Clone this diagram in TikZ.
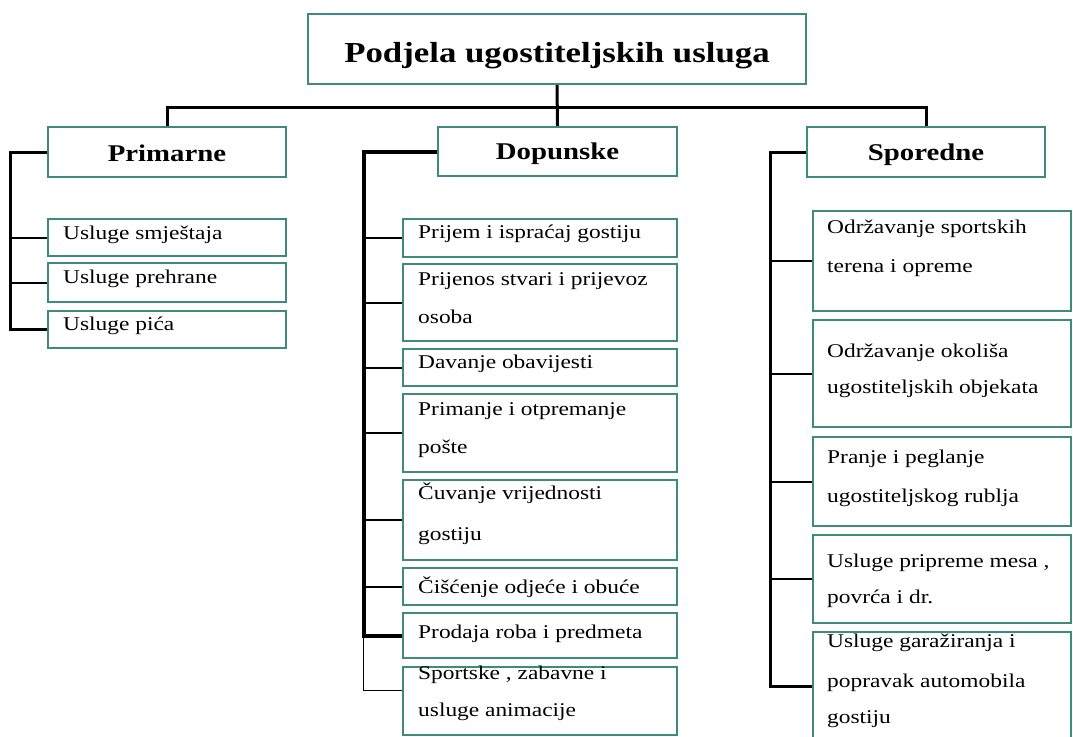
\documentclass[tikz,border=0pt]{standalone}
\usepackage{fontspec}
\setmainfont{Liberation Serif}[FakeStretch=1.2]
\definecolor{boxc}{HTML}{3F8A7E}
\newcommand\mybox[5]{\node[box, minimum width={(#4-#2)*1pt}, minimum height={(#5-#3)*1pt}] (#1) at ({(#2+#4)/2},{(#3+#5)/2}) {};}
\begin{document}
\begin{tikzpicture}[x=1pt,y=-1pt,
  box/.style={draw=boxc, line width=2.2pt, fill=white, inner sep=0pt},
  itemtxt/.style={anchor=base west, inner sep=0pt, font=\fontsize{19.5}{20}\selectfont},
  headtxt/.style={anchor=base, inner sep=0pt, font=\fontsize{24}{26}\selectfont\bfseries},
  conn/.style={draw=black, line width=3pt},
  thickconn/.style={draw=black, line width=4pt},
  sub/.style={draw=black, line width=2pt},
  thinconn/.style={draw=black, line width=1pt}]
\useasboundingbox[fill=white] (0,0) rectangle (1073,736);

% title
\mybox{title}{308}{14}{806}{84}
\node[anchor=base, inner sep=0pt, font=\fontsize{29}{31}\selectfont\bfseries] (ttitle) at (557,62) {Podjela ugostiteljskih usluga};

% headers
\mybox{prim}{48}{127}{286}{177}
\node[headtxt] (tprim) at (167,161) {Primarne};
\mybox{dop}{438}{127}{677}{176}
\node[headtxt] (tdop) at (557.5,159) {Dopunske};
\mybox{spor}{807}{127}{1045}{177}
\node[headtxt] (tspor) at (926,160) {Sporedne};

% primarne items
\mybox{p1}{48}{219}{286}{256}
\node[itemtxt] (tp1) at (63,239) {Usluge smještaja};
\mybox{p2}{48}{263}{286}{302}
\node[itemtxt] (tp2) at (63,283) {Usluge prehrane};
\mybox{p3}{48}{311}{286}{348}
\node[itemtxt] (tp3) at (63,330) {Usluge pića};

% dopunske items
\mybox{d1}{403}{219}{677}{257}
\node[itemtxt] (td1) at (418,238) {Prijem i ispraćaj gostiju};
\mybox{d2}{403}{264}{677}{341}
\node[itemtxt] (td2a) at (418,285) {Prijenos stvari i prijevoz};
\node[itemtxt] (td2b) at (418,323) {osoba};
\mybox{d3}{403}{349}{677}{386}
\node[itemtxt] (td3) at (418,368) {Davanje obavijesti};
\mybox{d4}{403}{394}{677}{472}
\node[itemtxt] (td4a) at (418,415) {Primanje i otpremanje};
\node[itemtxt] (td4b) at (418,453) {pošte};
\mybox{d5}{403}{480}{677}{560}
\node[itemtxt] (td5a) at (418,499) {Čuvanje vrijednosti};
\node[itemtxt] (td5b) at (418,540) {gostiju};
\mybox{d6}{403}{568}{677}{605}
\node[itemtxt] (td6) at (418,593) {Čišćenje odjeće i obuće};
\mybox{d7}{403}{613}{677}{658}
\node[itemtxt] (td7) at (418,638) {Prodaja roba i predmeta};
\mybox{d8}{403}{667}{677}{735}
\node[itemtxt] (td8a) at (418,679) {Sportske , zabavne i};
\node[itemtxt] (td8b) at (418,716) {usluge animacije};

% sporedne items
\mybox{s1}{813}{211}{1071}{311}
\node[itemtxt] (ts1a) at (827,233) {Održavanje sportskih};
\node[itemtxt] (ts1b) at (827,272) {terena i opreme};
\mybox{s2}{813}{320}{1071}{427}
\node[itemtxt] (ts2a) at (827,357) {Održavanje okoliša};
\node[itemtxt] (ts2b) at (827,393) {ugostiteljskih objekata};
\mybox{s3}{813}{437}{1071}{526}
\node[itemtxt] (ts3a) at (827,463) {Pranje i peglanje};
\node[itemtxt] (ts3b) at (827,502) {ugostiteljskog rublja};
\mybox{s4}{813}{535}{1071}{623}
\node[itemtxt] (ts4a) at (827,567) {Usluge pripreme mesa ,};
\node[itemtxt] (ts4b) at (827,603) {povrća i dr.};
\mybox{s5}{813}{632}{1071}{740}
\node[itemtxt] (ts5a) at (827,647) {Usluge garažiranja i};
\node[itemtxt] (ts5b) at (827,687) {popravak automobila};
\node[itemtxt] (ts5c) at (827,723) {gostiju};

% top connectors
\coordinate (bar) at (557.5,107);
\draw[conn] (title.south) -- (dop.north);
\draw[conn] (prim.north) |- (bar) -| (spor.north);

% primarne bracket
\draw[conn] (prim.west) -- ++(-36,0) |- (p3.west);
\draw[sub] (p1.west) -- ++(-36,0);
\draw[sub] (p2.west) -- ++(-36,0);

% dopunske bracket
\draw[thickconn] (dop.west) -- ++(-73,0) |- (d7.west);
\draw[thinconn] (d7.west) ++(-38,0) |- ([yshift=11pt]d8.west);
\foreach \n in {d1,d2,d3,d4,d5,d6}{\draw[sub] (\n.west) -- ++(-38,0);}

% sporedne bracket
\draw[conn] (spor.west) -- ++(-35,0) |- (s5.west);
\foreach \n in {s1,s2,s3,s4}{\draw[sub] (\n.west) -- ++(-41,0);}
\end{tikzpicture}
\end{document}
